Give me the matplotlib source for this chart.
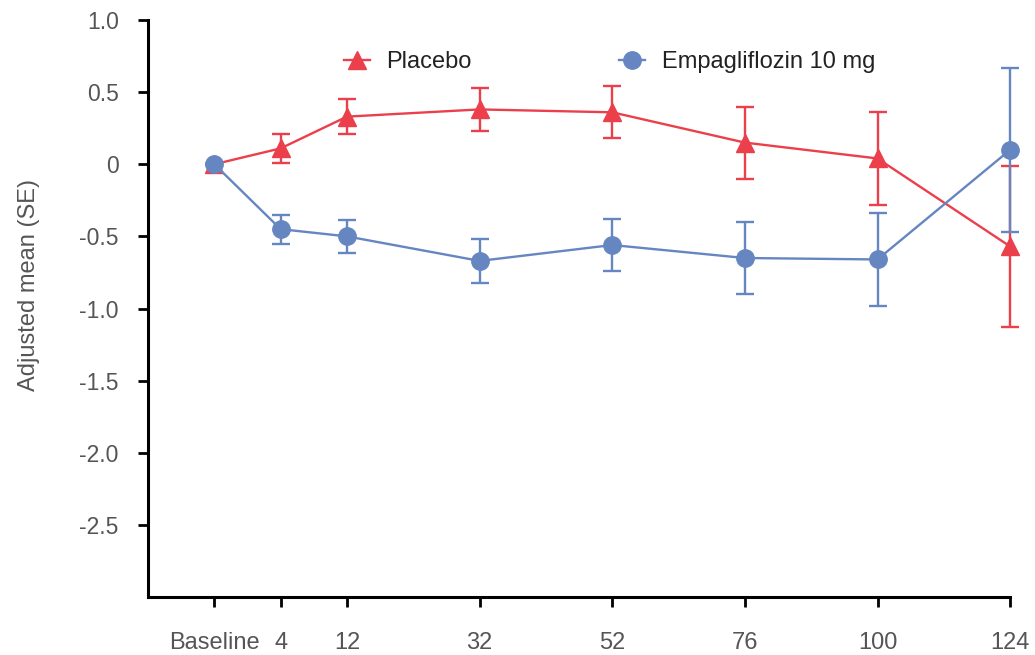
import matplotlib
matplotlib.use("Agg")
import matplotlib.pyplot as plt
from matplotlib.lines import Line2D

plt.rcParams['font.family'] = ['Liberation Sans', 'DejaVu Sans']

weeks = ["Baseline", "4", "12", "32", "52", "76", "100", "124"]
placebo_mean = [0.0, 0.11, 0.33, 0.38, 0.36, 0.15, 0.04, -0.57]
placebo_se = [0.0, 0.10, 0.12, 0.15, 0.18, 0.25, 0.32, 0.56]
empa_mean = [0.0, -0.45, -0.50, -0.67, -0.56, -0.65, -0.66, 0.10]
empa_se = [0.0, 0.10, 0.115, 0.15, 0.18, 0.25, 0.32, 0.57]
y_ticks = [1.0, 0.5, 0, -0.5, -1.0, -1.5, -2.0, -2.5]
y_tick_labels = ["1.0", "0.5", "0", "-0.5", "-1.0", "-1.5", "-2.0", "-2.5"]

x_pos = [0, 1, 2, 4, 6, 8, 10, 12]

red = '#EC3F4C'
blue = '#6586C0'

fig = plt.figure(figsize=(10.35, 6.55), dpi=100)
ax = fig.add_axes([0.143, 0.0885, 0.833, 0.881])

for mean, se, col, mk, ms, z in [(placebo_mean, placebo_se, red, '^', 12.5, 3),
                                  (empa_mean, empa_se, blue, 'o', 12.5, 4)]:
    cont = ax.errorbar(x_pos, mean, yerr=se, color=col, marker=mk,
                       markersize=ms, linewidth=1.7, elinewidth=1.7, capsize=6.5,
                       capthick=1.7, zorder=z)
    for art in cont.get_children():
        art.set_clip_on(False)

ax.set_xlim(-1, 12)
ax.set_ylim(-3.0, 1.0)
ax.set_xticks(x_pos)
ax.set_xticklabels(weeks)
ax.set_yticks(y_ticks)
ax.set_yticklabels(y_tick_labels)

for s in ['top', 'right']:
    ax.spines[s].set_visible(False)
for s in ['left', 'bottom']:
    ax.spines[s].set_linewidth(2.2)
    ax.spines[s].set_color('black')

ax.tick_params(axis='both', direction='out', length=7, width=2.0, color='black',
               labelcolor='#555555')
ax.tick_params(axis='y', pad=14, labelsize=16.5)
ax.tick_params(axis='x', pad=18, labelsize=17)

ax.set_ylabel('Adjusted mean (SE)', fontsize=17, color='#555555', labelpad=28, y=0.541)

handles = [Line2D([], [], color=red, marker='^', markersize=12.5, linewidth=1.7),
           Line2D([], [], color=blue, marker='o', markersize=12.5, linewidth=1.7)]
labels = ['Placebo', 'Empagliflozin 10 mg']
leg = fig.legend(handles, labels, loc='center left',
                 bbox_to_anchor=(344 / 1035, 1 - 62 / 655),
                 bbox_transform=fig.transFigure,
                 ncol=2, frameon=False, fontsize=17, handlelength=1.1,
                 columnspacing=6.25, handletextpad=0.7, borderpad=0, borderaxespad=0)
for t in leg.get_texts():
    t.set_color('#222222')

fig.savefig('out.png', dpi=100)
